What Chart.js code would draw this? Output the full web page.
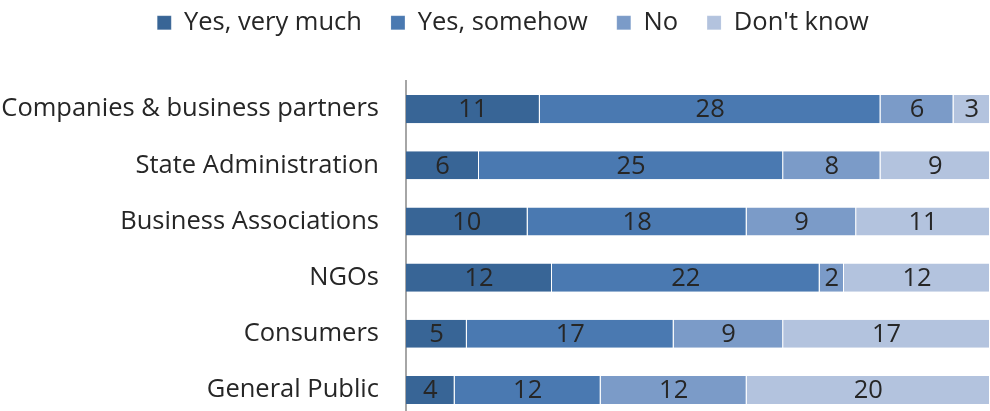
<!DOCTYPE html>
<html>
<head>
<meta charset="utf-8">
<script src="https://cdn.jsdelivr.net/npm/chart.js@4.4.1/dist/chart.umd.min.js"></script>
<style>
  html, body { margin: 0; padding: 0; background: #fff; overflow: hidden; }
  canvas { display: block; }
</style>
</head>
<body>
<canvas id="chart" width="990" height="418"></canvas>
<script>
const categories = ["Companies & business partners", "State Administration", "Business Associations", "NGOs", "Consumers", "General Public"]
const seriesNames = ["Yes, very much", "Yes, somehow", "No", "Don't know"]
const yesVeryMuch = [11, 6, 10, 12, 5, 4]
const yesSomehow = [28, 25, 18, 22, 17, 12]
const no = [6, 8, 9, 2, 9, 12]
const dontKnow = [3, 9, 11, 12, 17, 20]
const colors = ["#386596", "#4a79b1", "#7b9bc8", "#b3c3de"]

const FONT = "'Open Sans', 'DejaVu Sans', sans-serif"
const FONT_SIZE = 25.5
const PLOT_TOP = 81
const TOP_PAD = -19
const LEGEND_SHIFT = 18

// writes each segment's value in the middle of its bar
const valueLabels = {
  id: "valueLabels",
  afterDatasetsDraw(chart) {
    const ctx = chart.ctx
    ctx.save()
    ctx.font = `${FONT_SIZE}px ${FONT}`
    ctx.fillStyle = "#262626"
    ctx.textAlign = "center"
    ctx.textBaseline = "middle"
    chart.data.datasets.forEach((ds, i) => {
      chart.getDatasetMeta(i).data.forEach((bar, j) => {
        const cx = (bar.x + bar.base) / 2
        ctx.fillText(String(ds.data[j]), cx, bar.y + 1)
      })
    })
    ctx.restore()
  }
}

// fixed legend band height, legend nudged a bit to the right
const legendPlacement = {
  id: "legendPlacement",
  beforeInit(chart) {
    const fit = chart.legend.fit
    chart.legend.fit = function () {
      fit.call(this)
      this.height = PLOT_TOP - TOP_PAD
    }
  },
  afterLayout(chart) {
    chart.legend.left += LEGEND_SHIFT
    chart.legend.right += LEGEND_SHIFT
  }
}

const values = [yesVeryMuch, yesSomehow, no, dontKnow]

new Chart(document.getElementById("chart"), {
  type: "bar",
  data: {
    labels: categories,
    datasets: values.map((v, i) => ({
      label: seriesNames[i],
      data: v,
      backgroundColor: colors[i],
      borderColor: "rgba(255,255,255,0.6)",
      borderWidth: { left: 0, right: 1, top: 0, bottom: 0 },
      borderSkipped: false,
      barPercentage: 0.5,
      categoryPercentage: 1
    }))
  },
  options: {
    indexAxis: "y",
    responsive: false,
    animation: false,
    layout: { padding: { top: TOP_PAD, right: 0, bottom: 0, left: 0 } },
    scales: {
      x: {
        stacked: true,
        min: 0,
        max: 48,
        display: false
      },
      y: {
        stacked: true,
        afterFit(scale) {
          scale.width = 406
          // labels sit beside the bars, no extra room needed above/below
          scale.paddingTop = 0
          scale.paddingBottom = 0
        },
        grid: { display: false, drawTicks: false },
        border: { color: "#a6a6a6", width: 2 },
        ticks: {
          color: "#262626",
          padding: 27,
          font: { family: FONT, size: FONT_SIZE }
        }
      }
    },
    plugins: {
      legend: {
        position: "top",
        align: "center",
        labels: {
          color: "#262626",
          boxWidth: 14,
          boxHeight: 14,
          padding: 29,
          font: { family: FONT, size: FONT_SIZE }
        }
      },
      tooltip: { enabled: false }
    }
  },
  plugins: [valueLabels, legendPlacement]
})
</script>
</body>
</html>
